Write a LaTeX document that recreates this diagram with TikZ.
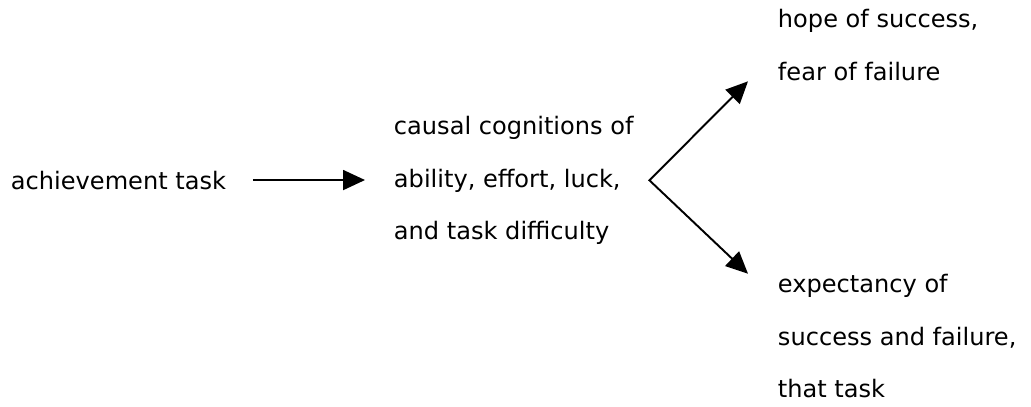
\documentclass[tikz,border=0pt]{standalone}
\usepackage{fontspec}
\setmainfont{DejaVu Sans}
\usetikzlibrary{arrows.meta}

\begin{document}
\begin{tikzpicture}[x=0.02cm,y=-0.02cm,line width=1.1pt,
	>={Triangle[length=0.44cm,width=0.4cm]},
	main node/.style={font=\fontsize{13.7}{29.6}\selectfont,align=left,
		inner sep=0pt,anchor=base west}]
\useasboundingbox (0,0) rectangle (1031,406);
% base of a block is its last line
\node[main node] (task) at (10,189) {achievement task};
\node[main node] (cause) at (393,239) {causal cognitions of\\ability, effort, luck,\\and task difficulty};
\node[main node] (hope) at (777,80) {hope of success,\\fear of failure};
\node[main node] (expect) at (777,397) {expectancy of\\success and failure,\\that task};
\coordinate (tip) at ([xshift=0.3cm]cause.east);
\coordinate (up) at ([xshift=-0.58cm]hope.south west);
\coordinate (down) at ([xshift=-0.58cm]expect.north west);
\path[->]
	(task.east) edge [shorten <=0.52cm,shorten >=0.56cm] (task.east -| cause.west);
\draw[<->] (up) -- (tip) -- (down);
\end{tikzpicture}
\end{document}
